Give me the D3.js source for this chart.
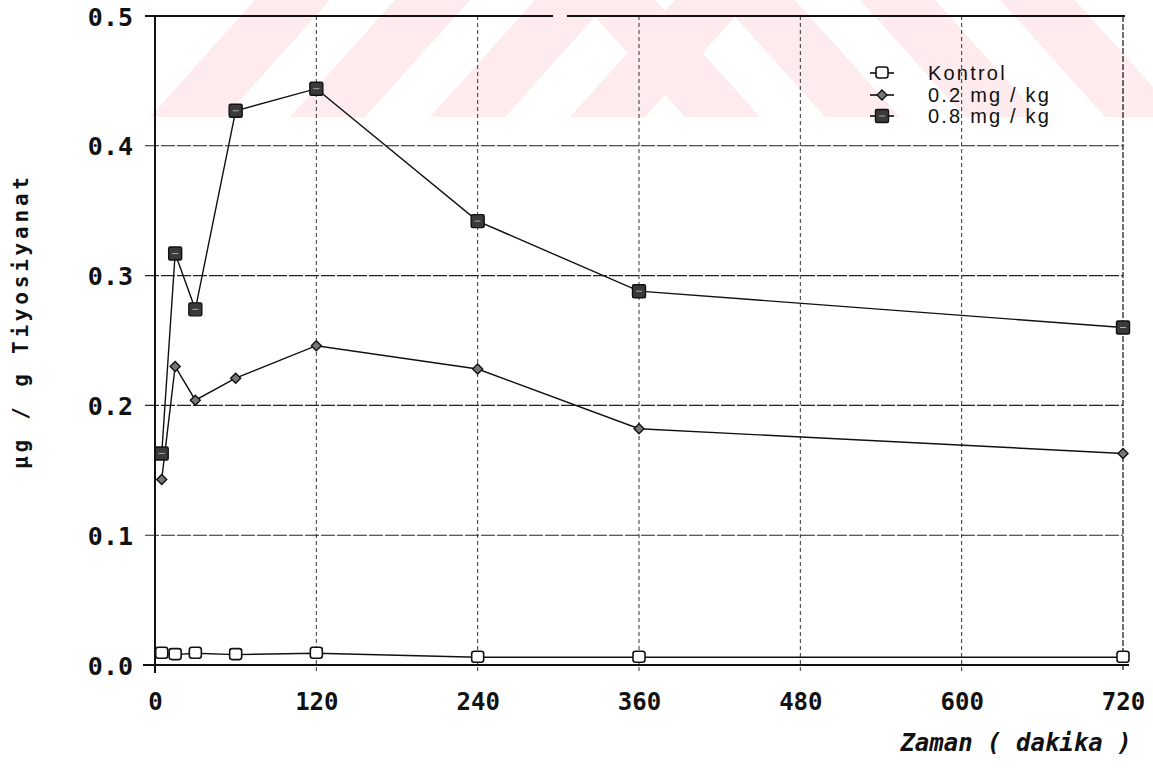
<!DOCTYPE html>
<html>
<head>
<meta charset="utf-8">
<script src="https://cdn.jsdelivr.net/npm/d3@7/dist/d3.min.js"></script>
<style>
  html, body { margin: 0; padding: 0; background: #fff; }
  svg { display: block; }
</style>
</head>
<body>
<svg id="chart" width="1153" height="781"></svg>
<script>
// ---- data ----
const times = [5, 15, 30, 60, 120, 240, 360, 720];
const kontrol = [0.009, 0.008, 0.009, 0.008, 0.009, 0.006, 0.006, 0.006];
const dose02 = [0.143, 0.230, 0.204, 0.221, 0.246, 0.228, 0.182, 0.163];
const dose08 = [0.163, 0.317, 0.274, 0.427, 0.444, 0.342, 0.288, 0.260];
const seriesNames = ["Kontrol", "0.2 mg / kg", "0.8 mg / kg"];
const xTicks = [0, 120, 240, 360, 480, 600, 720];
const yTicks = [0, 0.1, 0.2, 0.3, 0.4, 0.5];
const xTitle = "Zaman ( dakika )";
const yTitle = "µg / g Tiyosiyanat";

const svg = d3.select("#chart");
const x = d3.scaleLinear().domain([0, 720]).range([155, 1123]);
const y = d3.scaleLinear().domain([0, 0.5]).range([665, 16]);

// ---- faint watermark stripes (background decoration) ----
const wm = svg.append("g").attr("fill", "#fdebee");
const bandTop = 0, bandBot = 117;
const leftStarts = [150, 290, 430, 570];
leftStarts.forEach(b => {
  wm.append("polygon").attr("points",
    `${b},${bandBot} ${b + 75},${bandBot} ${b + 180},${bandTop} ${b + 105},${bandTop}`);
});
const rightStarts = [760, 900, 1040, 1180];
rightStarts.forEach(b => {
  wm.append("polygon").attr("points",
    `${b},${bandBot} ${b - 75},${bandBot} ${b - 180},${bandTop} ${b - 105},${bandTop}`);
});

// ---- grid ----
const grid = svg.append("g");
grid.selectAll("line.h").data(yTicks.filter(v => v > 0 && v < 0.5)).join("line")
  .attr("x1", 145).attr("x2", x(720))
  .attr("y1", d => y(d)).attr("y2", d => y(d))
  .attr("stroke", "#222").attr("stroke-width", 1.1).attr("stroke-dasharray", "14,2");
grid.selectAll("line.v").data(xTicks.filter(v => v > 0 && v < 720)).join("line")
  .attr("x1", d => x(d)).attr("x2", d => x(d))
  .attr("y1", y(0.5)).attr("y2", y(0) + 6)
  .attr("stroke", "#333").attr("stroke-width", 1).attr("stroke-dasharray", "4,3");

// frame (top border has a small break, as in the scanned original)
svg.append("line").attr("x1", 145).attr("x2", 553).attr("y1", y(0.5)).attr("y2", y(0.5))
  .attr("stroke", "#111").attr("stroke-width", 2);
svg.append("line").attr("x1", 567).attr("x2", x(720) + 2).attr("y1", y(0.5)).attr("y2", y(0.5))
  .attr("stroke", "#111").attr("stroke-width", 2);
svg.append("line").attr("x1", x(720)).attr("x2", x(720)).attr("y1", y(0.5)).attr("y2", y(0) + 6)
  .attr("stroke", "#222").attr("stroke-width", 1.3).attr("stroke-dasharray", "6,2");
svg.append("line").attr("x1", 143).attr("x2", x(720) + 6).attr("y1", y(0)).attr("y2", y(0))
  .attr("stroke", "#111").attr("stroke-width", 2.2);
svg.append("line").attr("x1", x(0)).attr("x2", x(0)).attr("y1", y(0.5)).attr("y2", y(0) + 8)
  .attr("stroke", "#111").attr("stroke-width", 2);

// ---- axes labels ----
const yAxis = d3.axisLeft(y).tickValues(yTicks).tickFormat(d3.format(".1f")).tickSize(0).tickPadding(22);
const gy = svg.append("g").attr("transform", `translate(${x(0)},0)`).call(yAxis);
gy.select(".domain").remove();
gy.selectAll("text").attr("font-family", "'DejaVu Sans Mono', monospace")
  .attr("font-weight", "bold").attr("font-size", 25).attr("fill", "#111").attr("dy", "0.36em");

const xAxis = d3.axisBottom(x).tickValues(xTicks).tickFormat(d3.format("d")).tickSize(0).tickPadding(28);
const gx = svg.append("g").attr("transform", `translate(0,${y(0)})`).call(xAxis);
gx.select(".domain").remove();
gx.selectAll("text").attr("font-family", "'DejaVu Sans Mono', monospace")
  .attr("font-weight", "bold").attr("font-size", 24).attr("fill", "#111");

svg.append("text").attr("x", 1016).attr("y", 751).attr("text-anchor", "middle")
  .attr("font-family", "'DejaVu Sans Mono', monospace").attr("font-weight", "bold")
  .attr("font-style", "italic").attr("font-size", 24).attr("fill", "#111").text(xTitle);

svg.append("text").attr("transform", "translate(28,323) rotate(-90)").attr("text-anchor", "middle")
  .attr("font-family", "'DejaVu Sans Mono', monospace").attr("font-weight", "bold")
  .attr("font-size", 21).attr("fill", "#111")
  .attr("textLength", 292).attr("lengthAdjust", "spacing").text(yTitle);

// ---- series ----
const series = [
  { name: seriesNames[0], vals: kontrol, marker: "open" },
  { name: seriesNames[1], vals: dose02, marker: "diamond" },
  { name: seriesNames[2], vals: dose08, marker: "filled" }
];
const line = d3.line().x(d => x(d[0])).y(d => y(d[1]));

function drawMarker(g, m, cx, cy) {
  if (m === "open") {
    g.append("rect").attr("x", cx - 6).attr("y", cy - 6).attr("width", 12).attr("height", 11)
      .attr("rx", 2.5).attr("fill", "#fff").attr("stroke", "#111").attr("stroke-width", 1.6);
  } else if (m === "diamond") {
    g.append("path").attr("d", `M${cx},${cy - 5}L${cx + 5},${cy}L${cx},${cy + 5}L${cx - 5},${cy}Z`)
      .attr("fill", "#777").attr("stroke", "#111").attr("stroke-width", 1.4);
  } else {
    g.append("rect").attr("x", cx - 6.5).attr("y", cy - 6.5).attr("width", 13).attr("height", 13)
      .attr("rx", 1.5).attr("fill", "#3a3a3a").attr("stroke", "#111").attr("stroke-width", 1.4);
    g.append("line").attr("x1", cx - 3).attr("x2", cx + 3).attr("y1", cy).attr("y2", cy)
      .attr("stroke", "#aaa").attr("stroke-width", 1);
  }
}

series.forEach(s => {
  const pts = times.map((t, i) => [t, s.vals[i]]);
  const g = svg.append("g");
  g.append("path").attr("d", line(pts)).attr("fill", "none")
    .attr("stroke", "#111").attr("stroke-width", 1.4);
  pts.forEach(p => drawMarker(g, s.marker, x(p[0]), y(p[1])));
});

// ---- legend ----
const legY = [73, 95, 116];
series.forEach((s, i) => {
  const g = svg.append("g");
  g.append("line").attr("x1", 870).attr("x2", 894).attr("y1", legY[i]).attr("y2", legY[i])
    .attr("stroke", "#111").attr("stroke-width", 1.6);
  drawMarker(g, s.marker, 882, legY[i]);
  g.append("text").attr("x", 928).attr("y", legY[i]).attr("dy", "0.35em")
    .attr("font-family", "'Liberation Sans', sans-serif")
    .attr("font-size", 20).attr("letter-spacing", 2.2).attr("fill", "#111").text(s.name);
});
</script>
</body>
</html>
